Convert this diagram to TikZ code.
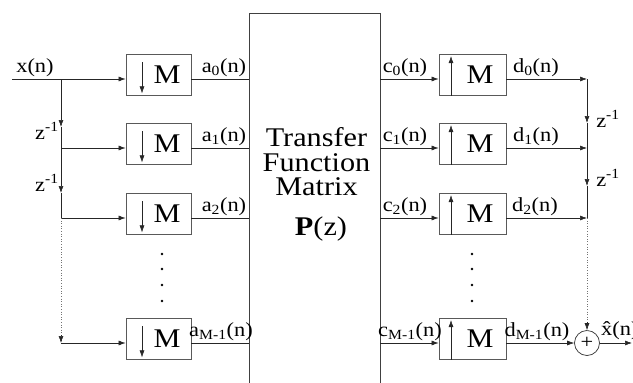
\documentclass[tikz,border=0pt]{standalone}
\usepackage{fontspec}
\setmainfont{Liberation Serif}[FakeStretch=1.12]
\usetikzlibrary{arrows.meta}
\begin{document}
\begin{tikzpicture}[x=1pt,y=-1pt,
  conn/.style={line width=0.6pt, draw=black!85},
  arr/.style={conn,-{Latex[length=7pt,width=5pt]}},
  dotln/.style={line width=0.6pt, draw=black!55, dotted},
  sampbox/.style={draw=black!65, line width=0.8pt, minimum width=65pt, minimum height=41pt, inner sep=0pt},
  bigbox/.style={draw=black!75, line width=0.8pt, minimum width=131pt, minimum height=380pt, inner sep=0pt},
  lab/.style={font=\fontsize{20}{22}\selectfont, inner sep=1pt},
  Mtext/.style={font=\fontsize{27}{29}\selectfont, inner sep=0pt},
  bigtext/.style={font=\fontsize{27}{24.5}\selectfont, inner sep=0pt, align=center},
  dotmark/.style={circle, fill=black, inner sep=0pt, minimum size=2.8pt}]
\useasboundingbox (0,0) rectangle (633,383);

% transfer matrix box
\node[bigbox] (P) at (314.5,203) {};
\node[bigtext] (Ptext) at (316.5,162) {Transfer\\Function\\Matrix};
\node[bigtext] (Pz) at (321,229) {\textbf{P}(z)};

% down- and upsamplers
\foreach \i/\y in {0/79,1/148,2/218,3/343} {
  \node[sampbox] (L\i) at (158.5,\y-4) {};
  \node[Mtext] (LM\i) at ([xshift=8.5pt]L\i.center) {M};
  \draw[arr] ([xshift=-16.5pt,yshift=-8pt]L\i.north) -- ([xshift=-16.5pt,yshift=2.5pt]L\i.south);
  \node[sampbox, minimum width=67pt] (R\i) at (472.5,\y-4) {};
  \node[Mtext] (RM\i) at ([xshift=7.5pt]R\i.center) {M};
  \draw[arr] ([xshift=-21.5pt]R\i.south) -- ([xshift=-21.5pt,yshift=-2pt]R\i.north);
  % lines to and from the matrix
  \coordinate (La\i) at ([yshift=-4pt]L\i.east);
  \draw[conn] (La\i) -- (La\i -| P.west);
  \coordinate (Rc\i) at ([yshift=-4pt]R\i.west);
  \draw[arr] (Rc\i -| P.east) -- (Rc\i);
}

% analysis delay chain
\coordinate (xin) at (12,79);
\coordinate (t0) at (61,79);
\coordinate (t1) at (61,148);
\coordinate (t2) at (61,218);
\coordinate (t3) at (61,343);
\coordinate (ta) at (61,127);
\coordinate (tb) at (61,193);
\draw[arr] (xin) -- (La0 -| L0.west);
\draw[arr] (t0) -- (ta);
\draw[conn] (ta) -- (t1);
\draw[arr] (t1) -- (La1 -| L1.west);
\draw[arr] (t1) -- (tb);
\draw[conn] (tb) -- (t2);
\draw[arr] (t2) -- (La2 -| L2.west);
\draw[dotln] (t2) -- (t3);
\draw[arr] ([yshift=8pt]t3) -- (t3);
\draw[arr] (t3) -- (La3 -| L3.west);

% synthesis delay chain
\coordinate (s0) at (587,79);
\coordinate (s1) at (587,148);
\coordinate (s2) at (587,218);
\coordinate (sa) at (587,123);
\coordinate (sb) at (587,186);
\node[circle, draw=black!80, line width=0.7pt, minimum size=25pt, inner sep=0pt, font=\fontsize{20}{22}\selectfont] (add) at (587,343) {+};
\coordinate (xout) at (632,343);
\draw[arr] ([yshift=-4pt]R0.east) -- (s0);
\draw[arr] ([yshift=-4pt]R1.east) -- (s1);
\draw[arr] ([yshift=-4pt]R2.east) -- (s2);
\draw[arr] (s0) -- (sa);
\draw[conn] (sa) -- (s1);
\draw[arr] (s1) -- (sb);
\draw[conn] (sb) -- (s2);
\draw[dotln] (s2) -- (add.north);
\draw[arr] ([yshift=8pt]add.north) -- (add.north);
\draw[arr] ([yshift=-4pt]R3.east) -- (add.west);
\draw[arr] (add.east) -- (xout);

% labels
\node[lab, anchor=south] (lx) at (35,78) {x(n)};
\node[lab] (lz1) at (47,131) {z\textsuperscript{-1}};
\node[lab] (lz2) at (47,183) {z\textsuperscript{-1}};
\node[lab] (rz1) at (608,119) {z\textsuperscript{-1}};
\node[lab] (rz2) at (608,178) {z\textsuperscript{-1}};
\node[lab, anchor=south] (la0) at (224,78) {a\textsubscript{0}(n)};
\node[lab, anchor=south] (la1) at (224,147) {a\textsubscript{1}(n)};
\node[lab, anchor=south] (la2) at (224,217) {a\textsubscript{2}(n)};
\node[lab, anchor=south] (la3) at (221,342) {a\textsubscript{M-1}(n)};
\node[lab, anchor=south] (lc0) at (405,78) {c\textsubscript{0}(n)};
\node[lab, anchor=south] (lc1) at (405,147) {c\textsubscript{1}(n)};
\node[lab, anchor=south] (lc2) at (405,217) {c\textsubscript{2}(n)};
\node[lab, anchor=south] (lc3) at (410,342) {c\textsubscript{M-1}(n)};
\node[lab, anchor=south] (ld0) at (536,78) {d\textsubscript{0}(n)};
\node[lab, anchor=south] (ld1) at (536,147) {d\textsubscript{1}(n)};
\node[lab, anchor=south] (ld2) at (535,217) {d\textsubscript{2}(n)};
\node[lab, anchor=south] (ld3) at (537,342) {d\textsubscript{M-1}(n)};
\node[lab, anchor=south west] (lxh) at (600,341) {\^{x}(n)};

% vertical ellipses
\foreach \yy in {254,269,285,301} {
  \node[dotmark] at (162,\yy) {};
  \node[dotmark] at (472,\yy) {};
}
\end{tikzpicture}
\end{document}
